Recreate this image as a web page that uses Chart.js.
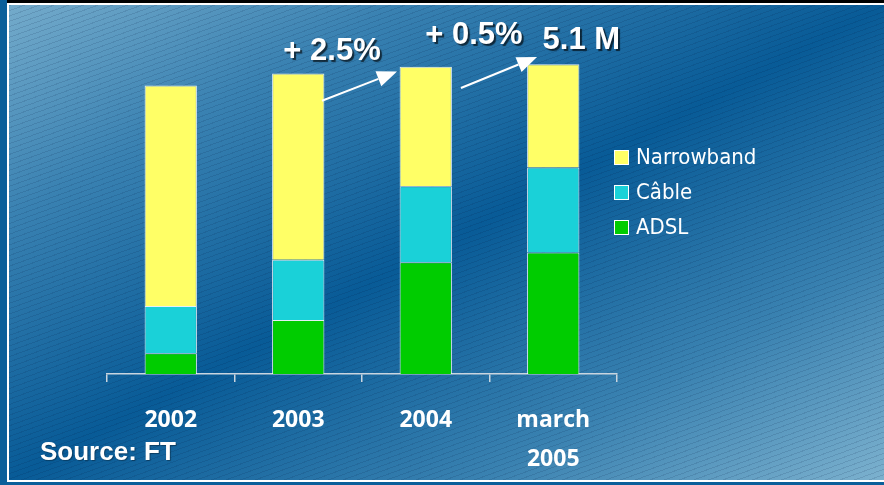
<!DOCTYPE html>
<html>
<head>
<meta charset="utf-8">
<script src="https://cdn.jsdelivr.net/npm/chart.js@4"></script>
<style>
  html, body { margin: 0; padding: 0; background: #0b5f99; }
  #frame { position: relative; width: 884px; height: 485px; overflow: hidden; background: #0a5f9a; }
  #topbar { position: absolute; left: 7px; top: 0; width: 877px; height: 3px; background: #000; }
  #panel {
    position: absolute; left: 7px; top: 3px; width: 877px; height: 479px;
    border-left: 2px solid #fff; border-top: 2px solid #fff; border-bottom: 2px solid #fff;
    box-sizing: border-box;
    background:
      repeating-linear-gradient(160deg, rgba(0, 20, 60, 0.12) 0px, rgba(0, 20, 60, 0.12) 1px, rgba(0, 0, 0, 0) 1px, rgba(0, 0, 0, 0) 5px),
      linear-gradient(to bottom right, #74abcb 0%, #3a82b2 22%, #085b97 50%, #3a82b1 77%, #7cb1ce 100%);
  }
  #chart { position: absolute; left: 0; top: 0; }
</style>
</head>
<body>
<div id="frame">
  <div id="topbar"></div>
  <div id="panel"></div>
  <canvas id="chart" width="884" height="485"></canvas>
</div>
<script>
var categories = ['2002', '2003', '2004', ['march', '2005']];
var adsl = [0.34, 0.89, 1.84, 2.00];
var cable = [0.78, 0.99, 1.25, 1.40];
var narrowband = [3.63, 3.07, 1.97, 1.70];
var seriesNames = ['ADSL', 'Câble', 'Narrowband'];
var seriesColors = ['#00cc00', '#1ad1d8', '#ffff66'];

// growth callouts, placed in data space (category index, millions)
var callouts = [
  { text: '+ 2.5%', x: 1.265, y: 5.31 },
  { text: '+ 0.5%', x: 2.378, y: 5.57 },
  { text: '5.1 M', x: 3.22, y: 5.50 }
];
var arrows = [
  { from: [1.186, 4.50], to: [1.775, 4.98] },
  { from: [2.276, 4.71], to: [2.873, 5.22] }
];

var legendFont = '22px "DejaVu Sans Condensed", "Open Sans", sans-serif';

var sideLegend = {
  id: 'sideLegend',
  afterDraw: function(chart) {
    var ctx = chart.ctx;
    var area = chart.chartArea;
    var items = chart.data.datasets.slice().reverse();
    ctx.save();
    ctx.font = legendFont;
    ctx.textBaseline = 'middle';
    ctx.textAlign = 'left';
    items.forEach(function(ds, i) {
      var cy = 157 + i * 35;
      var bx = area.right - 3;
      ctx.fillStyle = ds.backgroundColor;
      ctx.fillRect(bx, cy - 7, 15, 15);
      ctx.strokeStyle = '#ffffff';
      ctx.lineWidth = 1;
      ctx.strokeRect(bx + 0.5, cy - 6.5, 14, 14);
      ctx.fillStyle = '#ffffff';
      ctx.fillText(ds.label, bx + 22, cy + 1);
    });
    ctx.restore();
  }
};

var growthNotes = {
  id: 'growthNotes',
  afterDraw: function(chart) {
    var ctx = chart.ctx;
    var xs = chart.scales.x;
    var ys = chart.scales.y;
    ctx.save();
    // arrows
    arrows.forEach(function(a) {
      var x1 = xs.getPixelForValue(a.from[0]), y1 = ys.getPixelForValue(a.from[1]);
      var x2 = xs.getPixelForValue(a.to[0]), y2 = ys.getPixelForValue(a.to[1]);
      var ang = Math.atan2(y2 - y1, x2 - x1);
      var len = 20, half = 8;
      var bx = x2 - len * Math.cos(ang), by = y2 - len * Math.sin(ang);
      ctx.strokeStyle = '#ffffff';
      ctx.fillStyle = '#ffffff';
      ctx.lineWidth = 2;
      ctx.beginPath();
      ctx.moveTo(x1, y1);
      ctx.lineTo(bx, by);
      ctx.stroke();
      ctx.beginPath();
      ctx.moveTo(x2, y2);
      ctx.lineTo(bx + half * Math.sin(ang), by - half * Math.cos(ang));
      ctx.lineTo(bx - half * Math.sin(ang), by + half * Math.cos(ang));
      ctx.closePath();
      ctx.fill();
    });
    // texts
    ctx.font = 'bold 31px "Liberation Sans", Arial, sans-serif';
    ctx.textAlign = 'center';
    ctx.textBaseline = 'middle';
    ctx.shadowColor = 'rgba(0, 0, 0, 0.65)';
    ctx.shadowOffsetX = 2;
    ctx.shadowOffsetY = 2;
    ctx.shadowBlur = 1;
    ctx.fillStyle = '#ffffff';
    callouts.forEach(function(c) {
      ctx.fillText(c.text, xs.getPixelForValue(c.x), ys.getPixelForValue(c.y));
    });
    // source
    ctx.font = 'bold 26px "Liberation Sans", Arial, sans-serif';
    ctx.textAlign = 'left';
    ctx.shadowColor = 'rgba(0, 0, 0, 0.35)';
    ctx.shadowOffsetX = 1;
    ctx.shadowOffsetY = 1;
    ctx.fillText('Source: FT', 40, 453);
    ctx.restore();
  }
};

var datasets = [adsl, cable, narrowband].map(function(values, i) {
  return {
    label: seriesNames[i],
    data: values,
    backgroundColor: seriesColors[i],
    borderColor: 'rgba(255, 255, 255, 0.9)',
    borderWidth: 1,
    barPercentage: 0.41,
    categoryPercentage: 1
  };
});

new Chart(document.getElementById('chart'), {
  type: 'bar',
  data: { labels: categories, datasets: datasets },
  options: {
    responsive: false,
    animation: false,
    devicePixelRatio: 1,
    layout: { padding: { left: 107, right: 267, top: 40, bottom: 0 } },
    plugins: { legend: { display: false }, tooltip: { enabled: false } },
    scales: {
      x: {
        stacked: true,
        afterFit: function(scale) { scale.height = 111; },
        border: { color: '#c9d5df', width: 1.5 },
        grid: { offset: true, drawOnChartArea: false, drawTicks: true, tickLength: 8, color: '#c9d5df', lineWidth: 1.5 },
        ticks: {
          color: '#ffffff',
          padding: 19,
          font: { family: '"Liberation Sans Narrow", "Open Sans", sans-serif', size: 23, weight: 'bold', lineHeight: 1.7 }
        }
      },
      y: { stacked: true, display: false, min: 0, max: 5.5 }
    }
  },
  plugins: [sideLegend, growthNotes]
});
</script>
</body>
</html>
